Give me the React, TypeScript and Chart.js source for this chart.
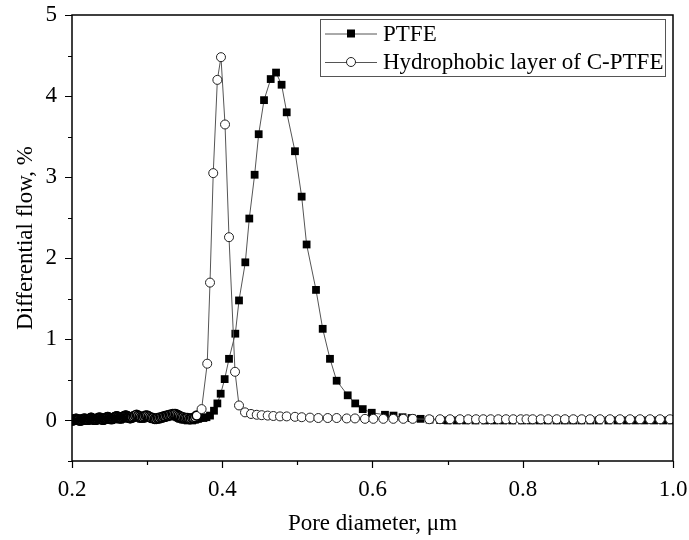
import React, { useEffect, useRef } from 'react';
import { Chart, registerables } from 'chart.js';

Chart.register(...registerables);

const SERIES_NAMES = ['PTFE', 'Hydrophobic layer of C-PTFE'];
const X_TITLE = 'Pore diameter, μm';
const Y_TITLE = 'Differential flow, %';
const X_MIN = 0.2;
const X_MAX = 1.0;
const X_STEP = 0.1;
const Y_MIN = -0.5;
const Y_MAX = 5;
const Y_STEP = 0.5;

const ptfeX = [
  0.200, 0.202, 0.204, 0.206, 0.208, 0.210, 0.212, 0.214, 0.216, 0.218,
  0.220, 0.222, 0.224, 0.226, 0.228, 0.230, 0.232, 0.234, 0.236, 0.238,
  0.240, 0.242, 0.244, 0.246, 0.248, 0.250, 0.252, 0.254, 0.256, 0.258,
  0.260, 0.262, 0.264, 0.266, 0.268, 0.270, 0.272, 0.274, 0.276, 0.278,
  0.280, 0.282, 0.284, 0.286, 0.288, 0.290, 0.292, 0.294, 0.296, 0.298,
  0.300, 0.302, 0.304, 0.306, 0.308, 0.310, 0.312, 0.314, 0.316, 0.318,
  0.320, 0.322, 0.324, 0.326, 0.328, 0.330, 0.332, 0.334, 0.336, 0.338,
  0.340, 0.342, 0.344, 0.346, 0.348, 0.350, 0.352, 0.354, 0.356, 0.358,
  0.360, 0.362, 0.364, 0.366, 0.368, 0.370, 0.375, 0.379,
  0.3837, 0.389, 0.3935, 0.3979, 0.4032, 0.409, 0.4174, 0.4223, 0.4307, 0.436,
  0.4431, 0.4485, 0.4556, 0.4645, 0.4716, 0.479, 0.4858, 0.4968, 0.5057, 0.5123,
  0.5248, 0.5337, 0.5434, 0.5523, 0.567, 0.577, 0.587, 0.599, 0.6166, 0.628,
  0.640, 0.652, 0.664, 0.676, 0.690, 0.700, 0.712, 0.724, 0.737, 0.750,
  0.762, 0.774, 0.786, 0.799, 0.811, 0.822, 0.833, 0.845, 0.856, 0.867,
  0.878, 0.890, 0.901, 0.914, 0.926, 0.938, 0.950, 0.962, 0.975, 0.987, 0.998,
];
const ptfeY = [
  0.00, 0.00, 0.01, 0.01, 0.01, 0.00, 0.00, 0.01, 0.01, 0.02,
  0.01, 0.01, 0.00, 0.01, 0.01, 0.02, 0.02, 0.01, 0.01, 0.00,
  0.01, 0.02, 0.02, 0.03, 0.02, 0.01, 0.01, 0.02, 0.03, 0.03,
  0.02, 0.02, 0.01, 0.02, 0.03, 0.04, 0.04, 0.03, 0.02, 0.02,
  0.03, 0.04, 0.05, 0.05, 0.04, 0.03, 0.02, 0.02, 0.03, 0.04,
  0.05, 0.05, 0.04, 0.03, 0.02, 0.02, 0.01, 0.01, 0.02, 0.02,
  0.03, 0.03, 0.04, 0.04, 0.05, 0.05, 0.06, 0.06, 0.06, 0.05,
  0.04, 0.03, 0.02, 0.02, 0.01, 0.01, 0.01, 0.00, 0.01, 0.01,
  0.00, 0.01, 0.01, 0.02, 0.02, 0.03, 0.03, 0.04,
  0.06, 0.12, 0.21, 0.33, 0.51, 0.76, 1.07, 1.48, 1.95, 2.49,
  3.03, 3.53, 3.95, 4.21, 4.29, 4.14, 3.80, 3.32, 2.76, 2.17,
  1.61, 1.13, 0.76, 0.49, 0.31, 0.21, 0.14, 0.095, 0.07, 0.06,
  0.04, 0.03, 0.02, 0.01, 0.005, 0.00, 0.00, 0.00, 0.00, 0.00,
  0.00, 0.00, 0.00, 0.00, 0.00, 0.00, 0.00, 0.00, 0.00, 0.00,
  0.00, 0.00, 0.00, 0.00, 0.00, 0.00, 0.00, 0.00, 0.00, 0.00, 0.00,
];

const cptfeX = [
  0.200, 0.201, 0.202, 0.203, 0.204, 0.205, 0.206, 0.207, 0.208, 0.209,
  0.210, 0.211, 0.212, 0.213, 0.214, 0.215, 0.216, 0.217, 0.218, 0.219,
  0.220, 0.221, 0.222, 0.223, 0.224, 0.225, 0.226, 0.227, 0.228, 0.229,
  0.230, 0.231, 0.232, 0.233, 0.234, 0.235, 0.236, 0.237, 0.238, 0.239,
  0.240, 0.241, 0.242, 0.243, 0.244, 0.245, 0.246, 0.247, 0.248, 0.249,
  0.250, 0.251, 0.252, 0.253, 0.254, 0.255, 0.256, 0.257, 0.258, 0.259,
  0.260, 0.261, 0.262, 0.263, 0.264, 0.265, 0.266, 0.267, 0.268, 0.269,
  0.270, 0.271, 0.272, 0.273, 0.274, 0.275, 0.276, 0.277, 0.278, 0.279,
  0.280, 0.282, 0.284, 0.286, 0.288, 0.290, 0.292, 0.294, 0.296, 0.298,
  0.300, 0.302, 0.304, 0.306, 0.308, 0.310, 0.312, 0.314, 0.316, 0.318,
  0.320, 0.322, 0.324, 0.326, 0.328, 0.330, 0.332, 0.334, 0.336, 0.338,
  0.340, 0.342, 0.344, 0.346, 0.348, 0.350, 0.352, 0.354, 0.356, 0.358,
  0.360, 0.362, 0.364, 0.366,
  0.3725, 0.380, 0.3837, 0.388, 0.3935, 0.3983, 0.4037, 0.409, 0.417, 0.4223,
  0.4303, 0.4383, 0.4459, 0.4525, 0.4605, 0.468, 0.4769, 0.4858, 0.4968, 0.5058,
  0.5168, 0.5279, 0.5404, 0.5523, 0.5657, 0.5767, 0.590, 0.6011, 0.6144, 0.6277,
  0.641, 0.6535, 0.6756, 0.6899, 0.7032, 0.7165, 0.7275, 0.7378, 0.7475, 0.7573,
  0.7675, 0.7777, 0.7874, 0.7973, 0.805, 0.8132, 0.8239, 0.834, 0.8452, 0.8562,
  0.8673, 0.8785, 0.8895, 0.9028, 0.9161, 0.9294, 0.9428, 0.9561, 0.9694, 0.9827, 0.996,
];
const cptfeY = [
  0.00, 0.00, 0.01, 0.01, 0.01, 0.02, 0.02, 0.01, 0.01, 0.01,
  0.00, 0.00, 0.00, 0.01, 0.01, 0.02, 0.02, 0.02, 0.02, 0.01,
  0.01, 0.01, 0.01, 0.02, 0.02, 0.03, 0.03, 0.02, 0.02, 0.01,
  0.01, 0.01, 0.01, 0.02, 0.02, 0.03, 0.03, 0.03, 0.03, 0.02,
  0.02, 0.01, 0.01, 0.02, 0.02, 0.03, 0.03, 0.04, 0.04, 0.03,
  0.03, 0.02, 0.02, 0.02, 0.02, 0.03, 0.03, 0.04, 0.04, 0.05,
  0.05, 0.04, 0.04, 0.03, 0.03, 0.03, 0.03, 0.04, 0.04, 0.05,
  0.05, 0.06, 0.06, 0.05, 0.05, 0.04, 0.04, 0.03, 0.03, 0.04,
  0.04, 0.05, 0.06, 0.07, 0.06, 0.05, 0.04, 0.04, 0.05, 0.06,
  0.06, 0.05, 0.04, 0.03, 0.03, 0.02, 0.02, 0.03, 0.03, 0.04,
  0.04, 0.05, 0.05, 0.06, 0.06, 0.07, 0.07, 0.08, 0.08, 0.08,
  0.07, 0.06, 0.05, 0.04, 0.04, 0.03, 0.03, 0.03, 0.02, 0.02,
  0.03, 0.03, 0.04, 0.06,
  0.14, 0.70, 1.70, 3.05, 4.20, 4.48, 3.65, 2.26, 0.60, 0.185,
  0.10, 0.08, 0.07, 0.065, 0.06, 0.055, 0.05, 0.05, 0.045, 0.04,
  0.035, 0.03, 0.03, 0.03, 0.025, 0.025, 0.02, 0.02, 0.02, 0.02,
  0.02, 0.02, 0.015, 0.015, 0.015, 0.015, 0.015, 0.015, 0.015, 0.015,
  0.015, 0.015, 0.015, 0.015, 0.015, 0.015, 0.015, 0.015, 0.015, 0.015,
  0.015, 0.015, 0.015, 0.015, 0.015, 0.015, 0.015, 0.015, 0.015, 0.015, 0.015,
];

const FONT = "'Liberation Serif', 'Times New Roman', serif";
const FONT_SIZE = 23;

const toPoints = (xs: number[], ys: number[]) => xs.map((x, i) => ({ x, y: ys[i] }));

const frameAndLegend = {
  id: 'frameAndLegend',
  afterDraw(chart: any) {
    const { ctx, chartArea: a, scales } = chart;
    const xs = scales.x;
    const ys = scales.y;
    ctx.save();
    ctx.strokeStyle = '#000';
    ctx.lineWidth = 1.5;
    ctx.strokeRect(a.left, a.top, a.right - a.left, a.bottom - a.top);
    ctx.beginPath();
    xs.ticks.forEach((t: any) => {
      const px = Math.round(xs.getPixelForValue(t.value)) + 0.5;
      const major = Math.round(t.value * 10) % 2 === 0;
      ctx.moveTo(px, a.bottom);
      ctx.lineTo(px, a.bottom + (major ? 7 : 4));
    });
    ys.ticks.forEach((t: any) => {
      const py = Math.round(ys.getPixelForValue(t.value)) + 0.5;
      const major = Math.abs(t.value - Math.round(t.value)) < 1e-6;
      ctx.moveTo(a.left, py);
      ctx.lineTo(a.left - (major ? 7 : 4), py);
    });
    ctx.lineWidth = 1.2;
    ctx.stroke();

    // legend box
    const bw = 345;
    const bh = 57;
    const bx = a.right - 8 - bw;
    const by = a.top + 4;
    ctx.lineWidth = 1;
    ctx.strokeStyle = '#555';
    ctx.strokeRect(bx + 0.5, by + 0.5, bw, bh);
    ctx.font = `${FONT_SIZE}px ${FONT}`;
    ctx.textBaseline = 'middle';
    ctx.textAlign = 'left';
    chart.data.datasets.forEach((ds: any, i: number) => {
      const cy = by + 14.5 + i * 28.5;
      ctx.beginPath();
      ctx.strokeStyle = '#555';
      ctx.lineWidth = 1;
      ctx.moveTo(bx + 5, cy + 0.5);
      ctx.lineTo(bx + 57, cy + 0.5);
      ctx.stroke();
      const mx = bx + 31;
      if (ds.pointStyle === 'rect') {
        ctx.fillStyle = '#000';
        ctx.fillRect(mx - 4, cy - 4, 8, 8);
      } else {
        ctx.beginPath();
        ctx.arc(mx, cy, 4.5, 0, Math.PI * 2);
        ctx.fillStyle = '#fff';
        ctx.fill();
        ctx.strokeStyle = '#222';
        ctx.stroke();
      }
      ctx.fillStyle = '#000';
      ctx.fillText(ds.label, bx + 63, cy + 1);
    });
    ctx.restore();
  },
};

// markers in the densely sampled low-diameter range merge into a dark band
const denseBorder = (c: any) => {
  const x = c.parsed ? c.parsed.x : 1;
  if (x < 0.2805) return 1.8;
  if (x < 0.367) return 1.6;
  return 1;
};

export default function App() {
  const ref = useRef<HTMLCanvasElement | null>(null);
  useEffect(() => {
    if (!ref.current) return;
    const chart = new Chart(ref.current, {
      type: 'line',
      data: {
        datasets: [
          {
            label: SERIES_NAMES[0],
            data: toPoints(ptfeX, ptfeY),
            borderColor: '#555',
            borderWidth: 1,
            pointStyle: 'rect',
            pointRadius: 5.5,
            pointBackgroundColor: '#000',
            pointBorderColor: '#000',
            pointBorderWidth: 0,
            order: 1,
          },
          {
            label: SERIES_NAMES[1],
            data: toPoints(cptfeX, cptfeY),
            borderColor: '#555',
            borderWidth: 1,
            pointStyle: 'circle',
            pointRadius: 4.5,
            pointBackgroundColor: '#fff',
            pointBorderColor: (c: any) => (c.parsed && c.parsed.x < 0.367 ? '#000' : '#222'),
            pointBorderWidth: denseBorder,
            order: 0,
          },
        ],
      },
      options: {
        animation: false,
        responsive: false,
        devicePixelRatio: 1,
        layout: { padding: { top: 15, right: 16, left: 0, bottom: 0 } },
        plugins: { legend: { display: false }, tooltip: { enabled: false } },
        scales: {
          x: {
            type: 'linear',
            min: X_MIN,
            max: X_MAX,
            grid: { display: false, drawTicks: false },
            border: { display: false },
            ticks: {
              stepSize: X_STEP,
              autoSkip: false,
              maxRotation: 0,
              padding: 15,
              color: '#000',
              font: { family: FONT, size: FONT_SIZE },
              callback: (v: any) => (Math.round(Number(v) * 10) % 2 === 0 ? Number(v).toFixed(1) : ''),
            },
            title: {
              display: true,
              text: X_TITLE,
              color: '#000',
              font: { family: FONT, size: FONT_SIZE },
              padding: { top: 0, bottom: 2 },
            },
            afterFit: (s: any) => {
              s.height = 79;
              s.paddingLeft = 0;
              s.paddingRight = 0;
            },
          },
          y: {
            type: 'linear',
            min: Y_MIN,
            max: Y_MAX,
            grid: { display: false, drawTicks: false },
            border: { display: false },
            ticks: {
              stepSize: Y_STEP,
              autoSkip: false,
              padding: 15,
              color: '#000',
              font: { family: FONT, size: FONT_SIZE },
              callback: (v: any) => (Math.abs(Number(v) - Math.round(Number(v))) < 1e-6 ? String(Math.round(Number(v))) : ''),
            },
            title: {
              display: true,
              text: Y_TITLE,
              color: '#000',
              font: { family: FONT, size: FONT_SIZE },
              padding: { top: 12, bottom: 0 },
            },
            afterFit: (s: any) => {
              s.width = 72;
              s.paddingTop = 0;
              s.paddingBottom = 0;
            },
          },
        },
      },
      plugins: [frameAndLegend],
    });
    return () => chart.destroy();
  }, []);
  return (
    <div style={{ position: 'absolute', left: 0, top: 0, width: 689, height: 540, background: '#fff' }}>
      <canvas ref={ref} width={689} height={540} />
    </div>
  );
}
